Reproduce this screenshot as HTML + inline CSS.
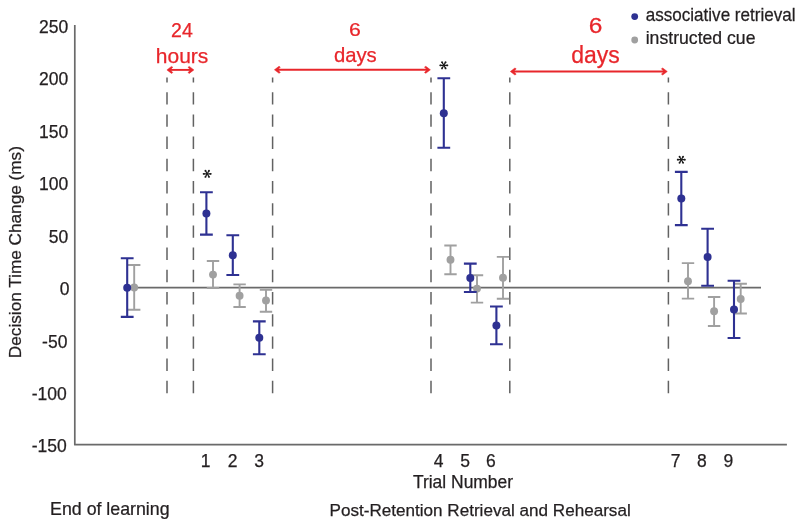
<!DOCTYPE html>
<html><head><meta charset="utf-8"><style>
html,body{margin:0;padding:0;background:#fff;width:800px;height:526px;overflow:hidden}
svg{display:block;will-change:transform}
text{font-family:"Liberation Sans",sans-serif;stroke-width:0.25px}
</style></head><body>
<svg width="800" height="526" viewBox="0 0 800 526">
<rect width="800" height="526" fill="#fff"/>
<!-- axes -->
<path d="M74.8 25.1 V444.7 H786.9" fill="none" stroke="#6a6a6a" stroke-width="1.7" stroke-linejoin="round"/>
<!-- zero line -->
<line x1="134" y1="287.6" x2="761" y2="287.6" stroke="#6a6a6a" stroke-width="1.6"/>
<!-- y labels -->
<g font-size="17.5" fill="#231f20" stroke="#231f20" text-anchor="end">
<text x="68.2" y="32.9">250</text>
<text x="68.2" y="85.3">200</text>
<text x="68.2" y="137.8">150</text>
<text x="68.2" y="190.2">100</text>
<text x="68.2" y="242.6">50</text>
<text x="69.6" y="295.0">0</text>
<text x="67.4" y="347.5">-50</text>
<text x="66.8" y="399.9">-100</text>
<text x="66.8" y="452.3">-150</text>
</g>
<!-- y title -->
<text transform="translate(20.8,252.1) rotate(-90)" font-size="17.2" fill="#231f20" stroke="#231f20" text-anchor="middle">Decision Time Change (ms)</text>
<!-- x labels -->
<g font-size="17.5" fill="#231f20" stroke="#231f20" text-anchor="middle">
<text x="205.6" y="467.3">1</text>
<text x="232.6" y="467.3">2</text>
<text x="259" y="467.3">3</text>
<text x="438.6" y="467.3">4</text>
<text x="465" y="467.3">5</text>
<text x="490.9" y="467.3">6</text>
<text x="675.6" y="467.3">7</text>
<text x="701.9" y="467.3">8</text>
<text x="728.4" y="467.3">9</text>
</g>
<text x="463" y="488.2" font-size="17.45" fill="#231f20" stroke="#231f20" text-anchor="middle">Trial Number</text>
<text transform="translate(50.1,515.3) scale(1.015,1)" font-size="17.5" fill="#231f20" stroke="#231f20">End of learning</text>
<text x="329.5" y="515.6" font-size="17.1" fill="#231f20" stroke="#231f20">Post-Retention Retrieval and Rehearsal</text>
<!-- dashed lines -->
<g stroke="#626262" stroke-width="1.5" stroke-dasharray="12.4 9.8">
<line x1="167" y1="393.2" x2="167" y2="77.6"/>
<line x1="193.4" y1="393.2" x2="193.4" y2="77.6"/>
<line x1="272.6" y1="393.2" x2="272.6" y2="77.6"/>
<line x1="431" y1="393.2" x2="431" y2="77.6"/>
<line x1="509.8" y1="393.2" x2="509.8" y2="77.6"/>
<line x1="668.4" y1="393.2" x2="668.4" y2="77.6"/>
</g>
<!-- red annotations -->
<g fill="#e8262b" stroke="#e8262b" style="stroke-width:0.1px">
<text x="181.9" y="36.6" font-size="19.5" text-anchor="middle">24</text>
<text x="182.1" y="63.2" font-size="21" text-anchor="middle">hours</text>
<text transform="translate(354.8,35.7) scale(1.12,1)" font-size="19" text-anchor="middle">6</text>
<text x="355.3" y="61.8" font-size="20.3" text-anchor="middle">days</text>
<text transform="translate(595.45,33.2) scale(1.14,1)" font-size="21.5" text-anchor="middle">6</text>
<text x="595.5" y="63.1" font-size="23" text-anchor="middle">days</text>
</g>
<g stroke="#e8262b" stroke-width="1.9" fill="none"><line x1="169.9" y1="69.9" x2="190.9" y2="69.9"/><line x1="277.4" y1="69.8" x2="427.4" y2="69.8"/><line x1="513.3" y1="71.5" x2="664.3" y2="71.5"/></g>
<path fill="#e8262b" stroke="#e8262b" stroke-width="0.5" stroke-linejoin="round" d="M166.90 69.90 L171.50 66.40 L172.80 67.20 L170.30 69.90 L172.80 72.60 L171.50 73.40Z M193.90 69.90 L189.30 66.40 L188.00 67.20 L190.50 69.90 L188.00 72.60 L189.30 73.40Z M274.40 69.80 L279.00 66.30 L280.30 67.10 L277.80 69.80 L280.30 72.50 L279.00 73.30Z M430.40 69.80 L425.80 66.30 L424.50 67.10 L427.00 69.80 L424.50 72.50 L425.80 73.30Z M510.30 71.50 L514.90 68.00 L516.20 68.80 L513.70 71.50 L516.20 74.20 L514.90 75.00Z M667.30 71.50 L662.70 68.00 L661.40 68.80 L663.90 71.50 L661.40 74.20 L662.70 75.00Z"/>
<!-- stars -->
<g fill="#1a1a1a">
<g transform="translate(207.2,173.8)"><path d="M-0.00 0.35L3.60 0.85L3.60 -0.85L0.00 -0.35ZM-0.30 0.18L1.06 3.54L2.54 2.69L0.30 -0.18ZM-0.30 -0.17L-2.54 2.69L-1.06 3.54L0.30 0.17ZM-0.00 -0.35L-3.60 -0.85L-3.60 0.85L0.00 0.35ZM0.30 -0.18L-1.06 -3.54L-2.54 -2.69L-0.30 0.18ZM0.30 0.18L2.54 -2.69L1.06 -3.54L-0.30 -0.18Z"/><circle cx="3.60" cy="0.00" r="0.9"/><circle cx="1.80" cy="3.12" r="0.9"/><circle cx="-1.80" cy="3.12" r="0.9"/><circle cx="-3.60" cy="0.00" r="0.9"/><circle cx="-1.80" cy="-3.12" r="0.9"/><circle cx="1.80" cy="-3.12" r="0.9"/><circle r="0.8"/></g>
<g transform="translate(443.8,65.3)"><path d="M-0.00 0.35L3.60 0.85L3.60 -0.85L0.00 -0.35ZM-0.30 0.18L1.06 3.54L2.54 2.69L0.30 -0.18ZM-0.30 -0.17L-2.54 2.69L-1.06 3.54L0.30 0.17ZM-0.00 -0.35L-3.60 -0.85L-3.60 0.85L0.00 0.35ZM0.30 -0.18L-1.06 -3.54L-2.54 -2.69L-0.30 0.18ZM0.30 0.18L2.54 -2.69L1.06 -3.54L-0.30 -0.18Z"/><circle cx="3.60" cy="0.00" r="0.9"/><circle cx="1.80" cy="3.12" r="0.9"/><circle cx="-1.80" cy="3.12" r="0.9"/><circle cx="-3.60" cy="0.00" r="0.9"/><circle cx="-1.80" cy="-3.12" r="0.9"/><circle cx="1.80" cy="-3.12" r="0.9"/><circle r="0.8"/></g>
<g transform="translate(681.3,159.7)"><path d="M-0.00 0.35L3.60 0.85L3.60 -0.85L0.00 -0.35ZM-0.30 0.18L1.06 3.54L2.54 2.69L0.30 -0.18ZM-0.30 -0.17L-2.54 2.69L-1.06 3.54L0.30 0.17ZM-0.00 -0.35L-3.60 -0.85L-3.60 0.85L0.00 0.35ZM0.30 -0.18L-1.06 -3.54L-2.54 -2.69L-0.30 0.18ZM0.30 0.18L2.54 -2.69L1.06 -3.54L-0.30 -0.18Z"/><circle cx="3.60" cy="0.00" r="0.9"/><circle cx="1.80" cy="3.12" r="0.9"/><circle cx="-1.80" cy="3.12" r="0.9"/><circle cx="-3.60" cy="0.00" r="0.9"/><circle cx="-1.80" cy="-3.12" r="0.9"/><circle cx="1.80" cy="-3.12" r="0.9"/><circle r="0.8"/></g>
</g>
<!-- gray series -->
<g stroke="#a0a0a0" stroke-width="1.9" fill="#a0a0a0">
<path d="M134.2 265V309.7M128 265H140.4M128 309.7H140.4" fill="none"/>
<path d="M213 261V288M206.8 261H219.2M206.8 288H219.2" fill="none"/>
<path d="M239.6 284.4V307M233.4 284.4H245.8M233.4 307H245.8" fill="none"/>
<path d="M266 289.9V311.7M259.8 289.9H272.2M259.8 311.7H272.2" fill="none"/>
<path d="M450.5 245.5V274.3M444.3 245.5H456.7M444.3 274.3H456.7" fill="none"/>
<path d="M477 275.3V302.6M470.8 275.3H483.2M470.8 302.6H483.2" fill="none"/>
<path d="M503 256.9V298.7M496.8 256.9H509.2M496.8 298.7H509.2" fill="none"/>
<path d="M688 263.1V298.6M681.8 263.1H694.2M681.8 298.6H694.2" fill="none"/>
<path d="M714.1 297V326M707.9 297H720.3M707.9 326H720.3" fill="none"/>
<path d="M740.7 283.8V313.5M734.5 283.8H746.9M734.5 313.5H746.9" fill="none"/>
</g>
<g fill="#a0a0a0">
<circle cx="134.2" cy="287.5" r="3.95"/>
<circle cx="213" cy="274.6" r="3.95"/>
<circle cx="239.6" cy="295.7" r="3.95"/>
<circle cx="266" cy="300.4" r="3.95"/>
<circle cx="450.5" cy="259.8" r="3.95"/>
<circle cx="477" cy="288.6" r="3.95"/>
<circle cx="503" cy="277.7" r="3.95"/>
<circle cx="688" cy="281.3" r="3.95"/>
<circle cx="714.1" cy="311.3" r="3.95"/>
<circle cx="740.7" cy="299" r="3.95"/>
</g>
<!-- blue series -->
<g stroke="#2e3192" stroke-width="2.1" fill="none">
<path d="M127.2 258.3V316.9M120.8 258.3H133.6M120.8 316.9H133.6"/>
<path d="M206.4 192.3V234.6M200 192.3H212.8M200 234.6H212.8"/>
<path d="M232.8 235.3V275M226.4 235.3H239.2M226.4 275H239.2"/>
<path d="M259.3 321.4V354.3M252.9 321.4H265.7M252.9 354.3H265.7"/>
<path d="M443.8 78.3V147.8M437.4 78.3H450.2M437.4 147.8H450.2"/>
<path d="M470.3 263.6V292M463.9 263.6H476.7M463.9 292H476.7"/>
<path d="M496.4 306.5V344.2M490 306.5H502.8M490 344.2H502.8"/>
<path d="M681.3 171.9V225.1M674.9 171.9H687.7M674.9 225.1H687.7"/>
<path d="M707.6 228.8V285.7M701.2 228.8H714M701.2 285.7H714"/>
<path d="M734 280.8V338M727.6 280.8H740.4M727.6 338H740.4"/>
</g>
<g fill="#2e3192">
<circle cx="127.2" cy="287.8" r="4"/>
<circle cx="206.4" cy="213.6" r="4"/>
<circle cx="232.8" cy="255.2" r="4"/>
<circle cx="259.3" cy="337.8" r="4"/>
<circle cx="443.8" cy="113.2" r="4"/>
<circle cx="470.3" cy="278" r="4"/>
<circle cx="496.4" cy="325.6" r="4"/>
<circle cx="681.3" cy="198.6" r="4"/>
<circle cx="707.6" cy="257" r="4"/>
<circle cx="734" cy="309.6" r="4"/>
</g>
<!-- legend -->
<circle cx="634.7" cy="16.6" r="3.4" fill="#2e3192"/>
<circle cx="634.7" cy="40" r="3.4" fill="#a0a0a0"/>
<text transform="translate(645.8,20.6) scale(0.948,1)" font-size="18" fill="#231f20" stroke="#231f20">associative retrieval</text>
<text transform="translate(645.7,44.4) scale(0.98,1)" font-size="18" fill="#231f20" stroke="#231f20">instructed cue</text>
</svg>
</body></html>
